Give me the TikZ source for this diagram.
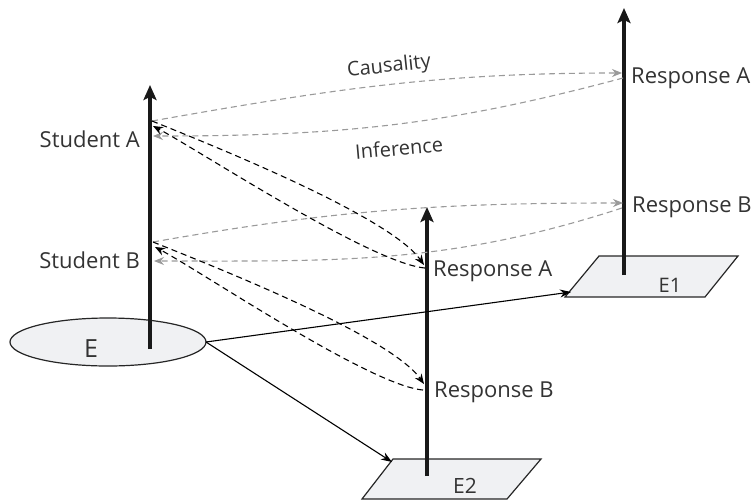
\documentclass[tikz,border=0pt]{standalone}
\usepackage{fontspec}
\setmainfont{Open Sans}
\usetikzlibrary{arrows.meta,shapes.geometric}
\definecolor{txt}{HTML}{333333}
\definecolor{plane}{HTML}{F0F1F3}
\definecolor{gdash}{HTML}{9A9A9A}
\begin{document}
\begin{tikzpicture}[x=1pt,y=1pt,
  axis/.style={line width=3.4pt,color=black!90,-{Stealth[length=15pt,width=13pt,inset=3pt]}},
  flat/.style={draw=black!85,line width=1.2pt,fill=plane},
  link/.style={line width=1.1pt,-{Stealth[length=11pt,width=8pt]}},
  causal/.style={gdash,line width=1.1pt,dash pattern=on 6pt off 4pt,-{Stealth[length=10pt,width=8pt]}},
  infer/.style={black,line width=1.1pt,dash pattern=on 6pt off 4pt,-{Stealth[length=10pt,width=8pt]}},
  lbl/.style={text=txt,font=\fontsize{22}{26}\selectfont,inner sep=0pt},
  slbl/.style={text=txt,font=\fontsize{20}{24}\selectfont,inner sep=0pt}]
\useasboundingbox (0,0) rectangle (752,-501);

% ground shapes
\node[flat,ellipse,minimum width=196pt,minimum height=48pt,inner sep=0pt,draw] (E) at (108,-342) {};
\node[lbl,font=\fontsize{25}{28}\selectfont,anchor=base] (Elbl) at (91,-357) {E};

\coordinate (E1a) at (599,-256); \coordinate (E1b) at (738,-256);
\coordinate (E1c) at (705,-297); \coordinate (E1d) at (565,-297);
\path[flat] (E1a) -- (E1b) -- (E1c) -- (E1d) -- cycle;
\node[lbl,font=\fontsize{20}{24}\selectfont,anchor=base] (E1lbl) at (670,-292) {E1};

\coordinate (E2a) at (393,-459); \coordinate (E2b) at (541,-459);
\coordinate (E2c) at (507,-499); \coordinate (E2d) at (362,-499);
\path[flat] (E2a) -- (E2b) -- (E2c) -- (E2d) -- cycle;
\node[lbl,font=\fontsize{21}{24}\selectfont,anchor=base] (E2lbl) at (465,-493) {E2};

% axes
\coordinate (L0) at (150,-349); \coordinate (L1) at (150,-85);
\coordinate (M0) at (427,-476); \coordinate (M1) at (427,-207);
\coordinate (R0) at (624,-275); \coordinate (R1) at (624,-8);
\draw[axis] (L0) -- (L1);
\draw[axis] (M0) -- (M1);
\draw[axis] (R0) -- (R1);

% links from E
\coordinate (Eout) at (206,-342);
\coordinate (E1in) at (571,-292);
\coordinate (E2in) at (392,-462);
\draw[link] (Eout) -- (E1in);
\draw[link] (Eout) -- (E2in);

% points on axes
\coordinate (SAo) at (152,-121); \coordinate (SAg) at (153,-136); \coordinate (SAb) at (153,-126);
\coordinate (SBo) at (153,-242); \coordinate (SBg) at (154,-261); \coordinate (SBb) at (155,-247);
\coordinate (RA1i) at (622,-73); \coordinate (RA1o) at (623,-78);
\coordinate (RB1i) at (623,-203); \coordinate (RB1o) at (622,-208);
\coordinate (RA2i) at (424,-265); \coordinate (RA2o) at (425,-268);
\coordinate (RB2i) at (424,-384); \coordinate (RB2o) at (423,-390);

% causality / inference (gray)
\draw[causal] (SAo) to[out=10,in=180] (RA1i);
\draw[causal] (RA1o) to[out=195,in=0] (SAg);
\draw[causal] (SBo) to[out=10,in=180] (RB1i);
\draw[causal] (RB1o) to[out=198,in=0] (SBg);

% black dashed
\draw[infer] (SAo) to[out=-22,in=125,looseness=0.5] (RA2i);
\draw[infer] (RA2o) to[out=175,in=-28,looseness=0.45] (SAb);
\draw[infer] (SBo) to[out=-22,in=125,looseness=0.5] (RB2i);
\draw[infer] (RB2o) to[out=175,in=-28,looseness=0.45] (SBb);

% labels
\node[lbl,anchor=base east] (SA) at (140,-147) {Student A};
\node[lbl,anchor=base east] (SB) at (140,-268) {Student B};
\node[lbl,anchor=base west] (RA1) at (631,-83) {Response A};
\node[lbl,anchor=base west] (RB1) at (632,-212) {Response B};
\node[lbl,anchor=base west] (RA2) at (433,-276) {Response A};
\node[lbl,anchor=base west] (RB2) at (434,-397) {Response B};
\node[slbl,rotate=6] (caus) at (389,-67) {Causality};
\node[slbl,rotate=5] (inf) at (399,-148) {Inference};
\end{tikzpicture}
\end{document}
